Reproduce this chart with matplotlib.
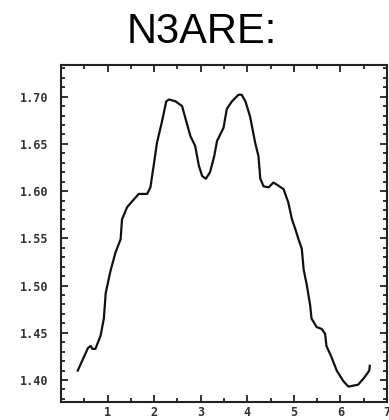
import matplotlib.pyplot as plt
from matplotlib.ticker import MultipleLocator

# Curva N3ARE
x = [0.36, 0.58, 0.64, 0.67, 0.74, 0.85, 0.92, 0.96, 1.06, 1.17, 1.28, 1.31, 1.42,
     1.56, 1.67, 1.85, 1.92, 1.99, 2.06, 2.17, 2.26, 2.32, 2.46, 2.60, 2.70, 2.78,
     2.88, 2.96, 3.03, 3.11, 3.20, 3.29, 3.35, 3.49, 3.56, 3.67, 3.81, 3.88, 3.96,
     4.06, 4.17, 4.24, 4.28, 4.35, 4.46, 4.56, 4.63, 4.78, 4.88, 4.96, 5.03, 5.10,
     5.17, 5.21, 5.28, 5.35, 5.38, 5.49, 5.60, 5.67, 5.70, 5.81, 5.92, 6.06, 6.17,
     6.38, 6.52, 6.62, 6.63]
y = [1.410, 1.434, 1.436, 1.433, 1.433, 1.447, 1.465, 1.492, 1.515, 1.535, 1.549,
     1.570, 1.583, 1.591, 1.597, 1.597, 1.604, 1.627, 1.651, 1.674, 1.695, 1.697,
     1.695, 1.690, 1.672, 1.658, 1.648, 1.627, 1.616, 1.613, 1.620, 1.637, 1.653,
     1.667, 1.687, 1.695, 1.702, 1.702, 1.695, 1.679, 1.651, 1.637, 1.613, 1.605,
     1.604, 1.609, 1.607, 1.602, 1.588, 1.570, 1.560, 1.549, 1.539, 1.517, 1.500,
     1.479, 1.465, 1.456, 1.454, 1.449, 1.436, 1.424, 1.410, 1.399, 1.393, 1.395,
     1.403, 1.410, 1.415]

xticks = [1, 2, 3, 4, 5, 6, 7]
yticks = [1.40, 1.45, 1.50, 1.55, 1.60, 1.65, 1.70]

fig = plt.figure(figsize=(3.89, 4.2), dpi=100)
ax = fig.add_axes([61 / 389, 18 / 420, 326 / 389, 337 / 420])

ax.plot(x, y, color='#111111', linewidth=1.6)

ax.set_xlim(0, 7)
ax.set_ylim(1.3767, 1.7335)
ax.set_xticks(xticks)
ax.set_yticks(yticks)
ax.set_xticklabels([str(v) for v in xticks])
ax.set_yticklabels(['%.2f' % v for v in yticks])
ax.xaxis.set_minor_locator(MultipleLocator(0.5))
ax.yaxis.set_minor_locator(MultipleLocator(0.01))

ax.tick_params(which='both', direction='in', top=True, right=True, width=1.3,
               colors='#222222')
ax.tick_params(which='major', length=5)
ax.tick_params(which='minor', length=3)
ax.tick_params(axis='y', pad=9)
ax.tick_params(axis='x', pad=3)
for lab in ax.get_xticklabels() + ax.get_yticklabels():
    lab.set_fontfamily('DejaVu Sans Mono')
    lab.set_fontsize(8.5)
    lab.set_fontweight('bold')
    lab.set_color('#333333')

for s in ax.spines.values():
    s.set_linewidth(1.5)
    s.set_color('#222222')

fig.text(202 / 389, 1 - 43 / 420, 'N3ARE:', ha='center', va='baseline',
         fontsize=30, family='Liberation Sans')

plt.savefig('out.png', dpi=100)
